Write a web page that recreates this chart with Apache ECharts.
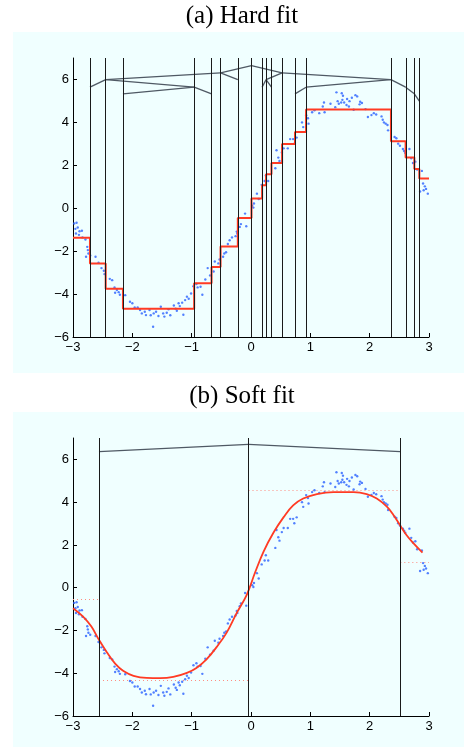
<!DOCTYPE html>
<html>
<head>
<meta charset="utf-8">
<script src="https://cdn.jsdelivr.net/npm/echarts@6/dist/echarts.min.js"></script>
<style>
    html, body { margin: 0; padding: 0; background: #fff; }
    #chart { width: 464px; height: 747px; }
</style>
</head>
<body>
<div id="chart"></div>
<script>
    // tick labels
    const xTicks = [-3, -2, -1, 0, 1, 2, 3];
    const yTicks = [-6, -4, -2, 0, 2, 4, 6];

    // noisy samples, shared by both panels
    const samples = [
        [-2.98, -0.71], [-2.94, -0.68], [-2.92, -0.90], [-2.96, -0.96], [-2.89, -1.07], [-2.85, -1.05],
        [-2.90, -1.24], [-2.95, -1.18], [-2.84, -1.36], [-2.79, -1.46], [-2.76, -1.80], [-2.75, -1.95],
        [-2.74, -2.11], [-2.78, -2.26], [-2.71, -2.20], [-2.62, -2.26], [-2.57, -2.54], [-2.52, -2.79],
        [-2.48, -2.91], [-2.47, -3.07], [-2.38, -3.29], [-2.34, -3.35], [-2.30, -3.69], [-2.26, -3.81],
        [-2.23, -3.91], [-2.29, -3.94], [-2.21, -4.03], [-2.12, -4.05], [-2.04, -4.36], [-2.00, -4.43],
        [-1.96, -4.62], [-1.91, -4.62], [-1.87, -4.74], [-1.84, -4.90], [-1.79, -4.82], [-1.77, -4.98],
        [-1.71, -4.74], [-1.69, -4.99], [-1.65, -5.52], [-1.64, -4.90], [-1.60, -4.82], [-1.56, -5.02],
        [-1.52, -4.59], [-1.48, -4.90], [-1.46, -5.05], [-1.42, -4.87], [-1.39, -4.71], [-1.36, -4.99],
        [-1.30, -4.53], [-1.27, -4.68], [-1.25, -4.78], [-1.22, -4.43], [-1.20, -4.56], [-1.16, -4.40],
        [-1.14, -4.96], [-1.11, -4.28], [-1.08, -4.12], [-1.05, -4.22], [-1.01, -3.97], [-0.97, -3.63],
        [-0.92, -3.53], [-0.90, -3.69], [-0.85, -3.66], [-0.82, -4.03],
        [-0.77, -3.32], [-0.73, -2.79], [-0.69, -3.13], [-0.63, -2.95], [-0.61, -2.48], [-0.55, -2.57],
        [-0.53, -2.39], [-0.47, -2.26], [-0.45, -2.11], [-0.42, -2.05], [-0.39, -1.67], [-0.36, -1.49],
        [-0.32, -1.36], [-0.26, -1.30], [-0.23, -1.18], [-0.24, -1.09], [-0.19, -0.87], [-0.17, -0.74],
        [-0.10, -0.25], [-0.08, -0.84], [0.04, 0.03], [0.05, 0.22], [0.02, 0.12], [0.13, 0.43],
        [0.10, 0.68], [0.18, 1.09], [0.23, 1.27], [0.25, 1.52], [0.29, 1.27], [0.41, 1.86],
        [0.46, 2.36], [0.48, 2.20], [0.43, 2.70], [0.52, 2.60], [0.55, 2.79], [0.62, 2.79],
        [0.66, 3.22], [0.71, 3.22], [0.73, 3.01], [0.77, 3.29],
        [0.86, 4.00], [0.88, 3.78], [0.93, 4.33], [0.96, 4.19], [0.97, 3.94], [1.03, 4.47],
        [1.07, 4.56], [1.15, 4.43], [1.21, 4.74], [1.23, 4.93], [1.24, 4.47], [1.34, 4.87],
        [1.42, 4.71], [1.44, 5.40], [1.46, 4.99], [1.48, 4.87], [1.52, 4.93], [1.53, 5.36],
        [1.54, 5.05], [1.55, 5.24], [1.57, 4.93], [1.61, 4.81], [1.62, 5.09], [1.65, 4.74],
        [1.66, 4.99], [1.70, 5.15], [1.73, 4.59], [1.76, 5.27], [1.79, 5.21], [1.83, 4.84],
        [1.84, 4.96], [1.87, 4.90], [1.93, 4.62], [1.97, 4.25], [2.03, 4.34], [2.07, 4.43],
        [2.11, 4.37], [2.20, 4.28], [2.22, 4.12], [2.24, 4.00], [2.27, 3.94], [2.30, 3.88],
        [2.31, 3.63], [2.42, 3.32], [2.45, 3.26], [2.48, 3.01], [2.51, 2.91], [2.56, 2.76],
        [2.58, 2.67], [2.60, 2.57], [2.67, 2.76], [2.70, 2.33], [2.73, 2.11], [2.77, 2.17],
        [2.80, 1.80], [2.88, 1.74], [2.90, 1.15], [2.93, 1.02], [2.95, 0.90], [2.91, 0.84],
        [2.98, 0.68], [2.85, 0.78]
    ];

    // (a) hard fit: split points, tree node heights, parent of each node, leaf constants
    const hardSplits = [-2.714, -2.449, -2.158, -0.958, -0.665, -0.513, -0.222, 0.008, 0.187,
        0.254, 0.345, 0.524, 0.742, 0.928, 2.359, 2.606, 2.753, 2.837];
    const hardNodeY = [5.64, 5.99, 5.33, 5.64, 5.33, 6.31, 5.99, 6.65, 5.64,
        5.99, 5.64, 6.31, 5.33, 5.64, 5.99, 5.64, 5.33, 4.99];
    const hardParent = [1, 5, 3, 1, 3, 7, 5, -1, 9, 11, 9, 7, 13, 14, 11, 14, 15, 16];
    const hardLevels = [-1.38, -2.57, -3.75, -4.68, -3.50, -2.74, -1.78, -0.45, 0.45, 1.07,
        1.58, 2.11, 2.99, 3.55, 4.60, 3.12, 2.36, 1.83, 1.38];

    // (b) soft fit: split points, tree node heights, parents, expert constants, fitted curve
    const softSplits = [-2.562, -0.042, 2.517];
    const softNodeY = [6.36, 6.70, 6.36];
    const softParent = [1, -1, 1];
    const softLevels = [-0.53, -4.31, 4.55, 1.21];
    const softCurve = [
        [-3.0, -0.96], [-2.83, -1.35], [-2.69, -1.82], [-2.56, -2.45], [-2.43, -3.02], [-2.29, -3.55],
        [-2.15, -3.90], [-1.98, -4.12], [-1.76, -4.22], [-1.53, -4.23], [-1.31, -4.17], [-1.08, -3.98],
        [-0.92, -3.75], [-0.75, -3.35], [-0.58, -2.78], [-0.41, -2.10], [-0.24, -1.18], [-0.07, -0.32],
        [0.07, 0.72], [0.21, 1.68], [0.38, 2.58], [0.55, 3.30], [0.71, 3.85], [0.88, 4.17],
        [1.11, 4.38], [1.39, 4.47], [1.73, 4.47], [1.95, 4.38], [2.12, 4.17], [2.29, 3.79],
        [2.40, 3.40], [2.51, 2.93], [2.62, 2.46], [2.74, 2.07], [2.89, 1.64]
    ];

    const XMIN = -3, XMAX = 3, YMIN = -6, YMAX = 7;
    const RED = '#ff3b24';
    const TREE = '#4f5964';

    function minus(v) {
        return String(v).replace('-', '\u2212');
    }

    function treeEdges(splits, nodeY, parent) {
        let out = [];
        parent.forEach((p, i) => {
            if (p >= 0) {
                out.push({coords: [[splits[p], nodeY[p]], [splits[i], nodeY[i]]]});
            }
        });
        return out;
    }

    function stepPoints(splits, levels) {
        let edges = [XMIN].concat(splits, [XMAX]);
        let pts = [];
        levels.forEach((v, i) => {
            pts.push([edges[i], v]);
            pts.push([edges[i + 1], v]);
        });
        return pts;
    }

    function levelSegments(splits, levels) {
        let edges = [XMIN].concat(splits, [XMAX]);
        return levels.map((v, i) => ({coords: [[edges[i], v], [edges[i + 1], v]]}));
    }

    function xAxisOf(i) {
        return {
            type: 'value', gridIndex: i, min: XMIN, max: XMAX, interval: 1,
            axisLine: {onZero: false, lineStyle: {color: '#000', width: 1}},
            axisTick: {inside: true, length: 4, lineStyle: {color: '#000'}},
            axisLabel: {
                color: '#000', fontFamily: 'Liberation Sans', fontSize: 13, margin: 4,
                customValues: xTicks, formatter: minus
            },
            splitLine: {show: false}
        };
    }

    function yAxisOf(i) {
        return {
            type: 'value', gridIndex: i, min: YMIN, max: YMAX, interval: 1,
            axisLine: {onZero: false, lineStyle: {color: '#000', width: 1}},
            axisTick: {inside: true, length: 4, lineStyle: {color: '#000'}, customValues: yTicks},
            axisLabel: {
                color: '#000', fontFamily: 'Liberation Sans', fontSize: 13, margin: 4,
                customValues: yTicks, formatter: minus
            },
            splitLine: {show: false}
        };
    }

    function splitLines(splits) {
        return {
            silent: true, symbol: 'none', label: {show: false},
            lineStyle: {color: '#1a1a1a', width: 1, type: 'solid'},
            data: splits.map((x) => ({xAxis: x}))
        };
    }

    let chart = echarts.init(document.getElementById('chart'), null, {renderer: 'canvas'});

    let option = {
        backgroundColor: '#fff',
        animation: false,
        graphic: {
            elements: [
                {type: 'rect', z: -10, shape: {x: 13, y: 32, width: 451, height: 341}, style: {fill: '#f0ffff'}},
                {type: 'rect', z: -10, shape: {x: 13, y: 412, width: 451, height: 335}, style: {fill: '#f0ffff'}},
                {type: 'text', x: 242, y: 16, style: {text: '(a) Hard fit', font: '25px "Liberation Serif"', fill: '#000', align: 'center', verticalAlign: 'middle'}},
                {type: 'text', x: 242, y: 396, style: {text: '(b) Soft fit', font: '25px "Liberation Serif"', fill: '#000', align: 'center', verticalAlign: 'middle'}}
            ]
        },
        grid: [
            {left: 73, top: 58, width: 356, height: 279},
            {left: 73, top: 438, width: 356, height: 278}
        ],
        xAxis: [xAxisOf(0), xAxisOf(1)],
        yAxis: [yAxisOf(0), yAxisOf(1)],
        series: [
            // ---- (a) hard fit ----
            {
                type: 'line', xAxisIndex: 0, yAxisIndex: 0, data: [], z: 1,
                markLine: splitLines(hardSplits)
            },
            {
                type: 'lines', coordinateSystem: 'cartesian2d', xAxisIndex: 0, yAxisIndex: 0, z: 2,
                polyline: false, silent: true,
                lineStyle: {color: TREE, width: 1.3, opacity: 1},
                data: treeEdges(hardSplits, hardNodeY, hardParent)
            },
            {
                type: 'scatter', xAxisIndex: 0, yAxisIndex: 0, z: 3, symbolSize: 2.4,
                itemStyle: {color: '#2a62ff'}, data: samples
            },
            {
                type: 'line', xAxisIndex: 0, yAxisIndex: 0, z: 4, showSymbol: false, symbol: 'none',
                lineStyle: {color: RED, width: 2}, data: stepPoints(hardSplits, hardLevels)
            },
            // ---- (b) soft fit ----
            {
                type: 'line', xAxisIndex: 1, yAxisIndex: 1, data: [], z: 1,
                markLine: splitLines(softSplits)
            },
            {
                type: 'lines', coordinateSystem: 'cartesian2d', xAxisIndex: 1, yAxisIndex: 1, z: 2,
                silent: true,
                lineStyle: {color: TREE, width: 1.3, opacity: 1},
                data: treeEdges(softSplits, softNodeY, softParent)
            },
            {
                type: 'lines', coordinateSystem: 'cartesian2d', xAxisIndex: 1, yAxisIndex: 1, z: 2,
                silent: true,
                lineStyle: {color: '#ff8c80', width: 1, type: [1, 3], opacity: 1},
                data: levelSegments(softSplits, softLevels)
            },
            {
                type: 'scatter', xAxisIndex: 1, yAxisIndex: 1, z: 3, symbolSize: 2.4,
                itemStyle: {color: '#2a62ff'}, data: samples
            },
            {
                type: 'line', xAxisIndex: 1, yAxisIndex: 1, z: 4, showSymbol: false, symbol: 'none',
                smooth: 0.4, lineStyle: {color: RED, width: 1.8}, data: softCurve
            }
        ]
    };

    chart.setOption(option);
</script>
</body>
</html>
